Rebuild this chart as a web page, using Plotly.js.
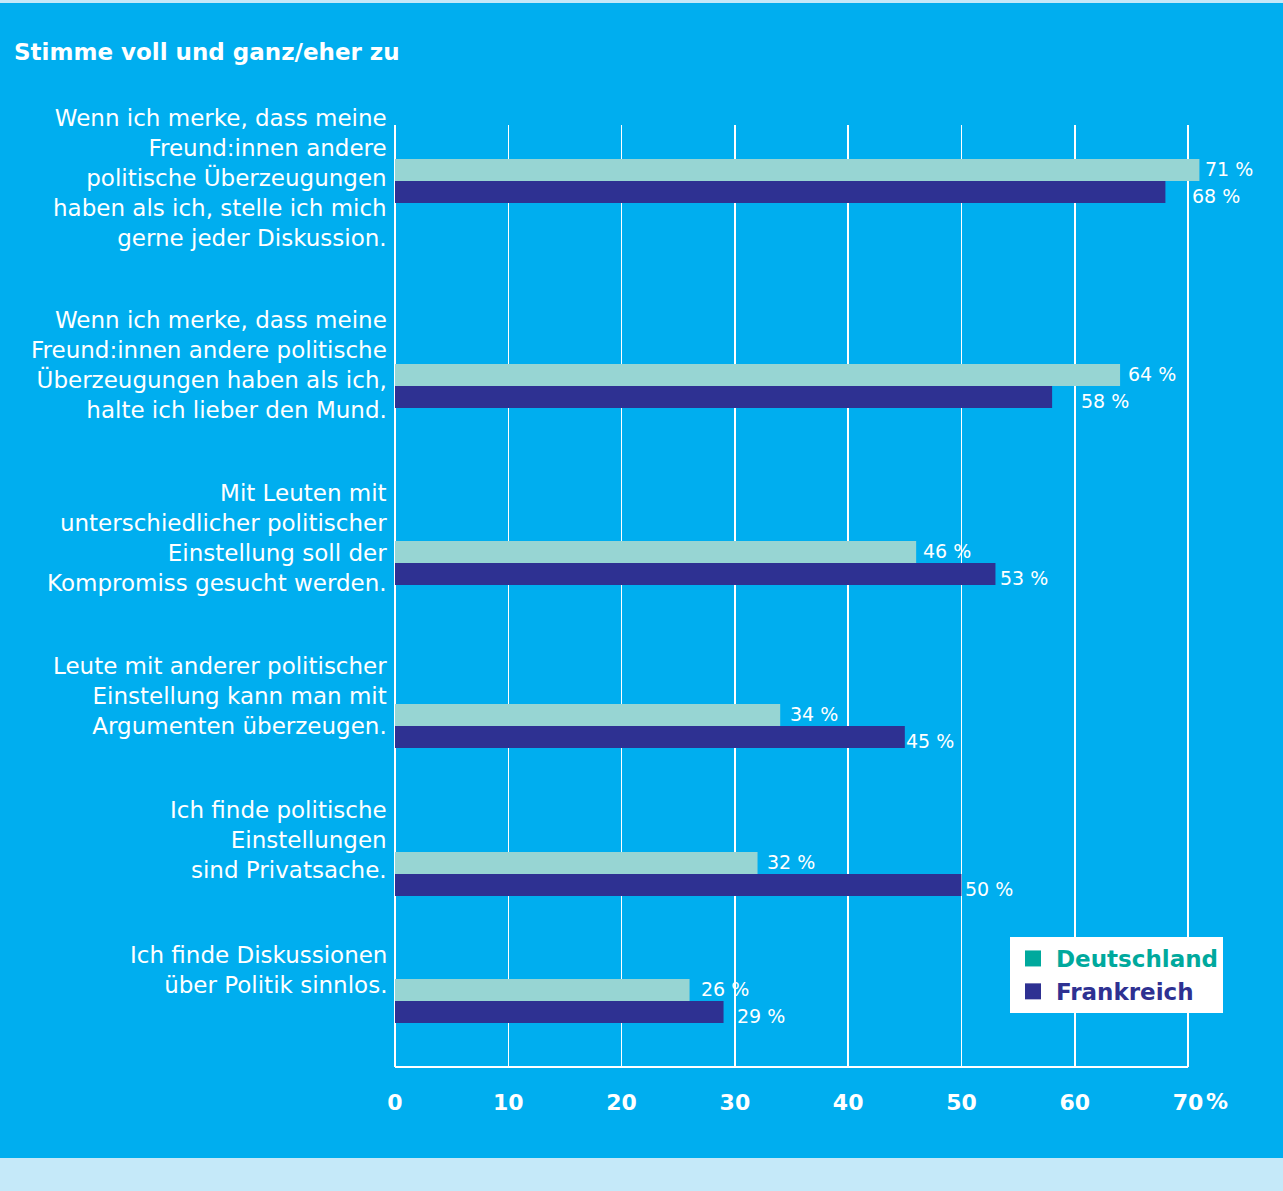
<!DOCTYPE html>
<html>
<head>
<meta charset="utf-8">
<script src="https://cdn.plot.ly/plotly-3.0.1.min.js"></script>
<style>
html,body{margin:0;padding:0;background:#00aeef;}
#chart{width:1283px;height:1191px;}
</style>
</head>
<body>
<div id="chart"></div>
<script>
// ---- data ----
const categories = [
  "Wenn ich merke, dass meine<br>Freund:innen andere<br>politische Überzeugungen<br>haben als ich, stelle ich mich<br>gerne jeder Diskussion.",
  "Wenn ich merke, dass meine<br>Freund:innen andere politische<br>Überzeugungen haben als ich,<br>halte ich lieber den Mund.",
  "Mit Leuten mit<br>unterschiedlicher politischer<br>Einstellung soll der<br>Kompromiss gesucht werden.",
  "Leute mit anderer politischer<br>Einstellung kann man mit<br>Argumenten überzeugen.",
  "Ich finde politische<br>Einstellungen<br>sind Privatsache.",
  "Ich finde Diskussionen<br>über Politik sinnlos."
];
const deutschland = [71, 64, 46, 34, 32, 26];
const frankreich  = [68, 58, 53, 45, 50, 29];
const tickValues  = [0, 10, 20, 30, 40, 50, 60, 70];
const tickLabels  = ["0", "10", "20", "30", "40", "50", "60", "70"];
const seriesNames = ["Deutschland", "Frankreich"];
const chartTitle  = "Stimme voll und ganz/eher zu";

// ---- layout helpers (vertical slots, label nudges in px) ----
const barPos   = [181, 386, 563, 726, 874, 1001];
const labelPos = [178, 365, 538, 696, 840, 970];
const gapDE    = [6, 8, 7, 10, 9, 11];
const gapFR    = [27, 29, 5, 1, 4, 13];

const FONT = "'DejaVu Sans', sans-serif";
const BG = "#00aeef", LIGHT = "#c5e9f9";
const DE_BAR = "#97d5d3", DE_KEY = "#00a99d", FR_COL = "#2e3192";

const traces = [
  {
    type: "bar", orientation: "h", x: deutschland, y: barPos,
    width: 22, offset: -22, marker: {color: DE_BAR, line: {width: 0}},
    showlegend: false, hoverinfo: "x"
  },
  {
    type: "bar", orientation: "h", x: frankreich, y: barPos,
    width: 22, offset: 0, marker: {color: FR_COL, line: {width: 0}},
    showlegend: false, hoverinfo: "x"
  },
  {
    type: "scatter", mode: "markers", x: [null], y: [null],
    name: "<span style='color:" + DE_KEY + "'><b>" + seriesNames[0] + "</b></span>",
    marker: {symbol: "square", size: 16, color: DE_KEY}
  },
  {
    type: "scatter", mode: "markers", x: [null], y: [null],
    name: "<span style='color:" + FR_COL + "'><b>" + seriesNames[1] + "</b></span>",
    marker: {symbol: "square", size: 16, color: FR_COL}
  }
];

const annotations = categories.map((c, i) => ({
  text: c, xref: "paper", x: 0, xanchor: "right", xshift: -6,
  yref: "y", y: labelPos[i], yanchor: "middle",
  align: "right", showarrow: false,
  font: {family: FONT, size: 23, color: "#ffffff"}
}));
const valFont = {family: FONT, size: 19, color: "#ffffff"};
deutschland.forEach((v, i) => annotations.push({
  text: v + " %", xref: "x", x: v, xanchor: "left", xshift: gapDE[i] - 2,
  yref: "y", y: barPos[i] - 11, yanchor: "middle", yshift: 1,
  showarrow: false, font: valFont
}));
frankreich.forEach((v, i) => annotations.push({
  text: v + " %", xref: "x", x: v, xanchor: "left", xshift: gapFR[i] - 2,
  yref: "y", y: barPos[i] + 11, yanchor: "middle", yshift: -4,
  showarrow: false, font: valFont
}));
annotations.push({
  text: "<b>%</b>", xref: "x", x: 70, xanchor: "left", xshift: 16,
  yref: "paper", y: -0.0361, yanchor: "middle", showarrow: false,
  font: {family: FONT, size: 22, color: "#ffffff"}
});

const layout = {
  width: 1283, height: 1191,
  paper_bgcolor: BG, plot_bgcolor: BG,
  margin: {l: 395, r: 0, t: 125, b: 124},
  title: {
    text: "<b>" + chartTitle + "</b>", xref: "container", x: 14/1283, xanchor: "left",
    yref: "container", y: 1 - 52/1191, yanchor: "middle",
    font: {family: FONT, size: 23, color: "#ffffff"}
  },
  barmode: "overlay",
  xaxis: {
    range: [0, 78.38], tickvals: tickValues, ticktext: tickLabels.map(t => "<b>" + t + "</b>"),
    showgrid: true, gridcolor: "#ffffff", gridwidth: 1.5,
    zeroline: true, zerolinecolor: "#ffffff", zerolinewidth: 1.5,
    showline: false, ticks: "", ticklabelstandoff: 20,
    tickfont: {family: FONT, size: 22, color: "#ffffff"}, fixedrange: true
  },
  yaxis: {
    range: [1067, 125], showticklabels: false, showgrid: false,
    zeroline: false, showline: false, ticks: "", fixedrange: true
  },
  legend: {
    x: (1010 - 395) / 888, xanchor: "left", y: (1067 - 937) / 942, yanchor: "top",
    bgcolor: "#ffffff", borderwidth: 0, font: {family: FONT, size: 23},
    itemclick: false, itemdoubleclick: false, tracegroupgap: 0, itemwidth: 36
  },
  shapes: [
    {type: "line", xref: "x", yref: "paper", x0: 0, x1: 70, y0: 0, y1: 0,
     line: {color: "#ffffff", width: 2}},
    {type: "rect", xref: "paper", yref: "paper", x0: -395/888, x1: 1, y0: -(1158-1067)/942, y1: -124/942,
     fillcolor: LIGHT, line: {width: 0}, layer: "below"},
    {type: "rect", xref: "paper", yref: "paper", x0: -395/888, x1: 1, y0: 1 + 122/942, y1: 1 + 125/942,
     fillcolor: LIGHT, line: {width: 0}, layer: "below"}
  ],
  annotations: annotations
};

Plotly.newPlot("chart", traces, layout, {displayModeBar: false, staticPlot: true});
</script>
</body>
</html>
